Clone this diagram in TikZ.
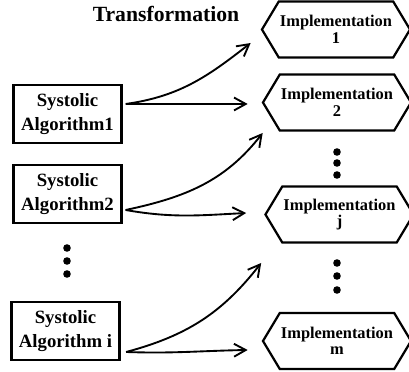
\documentclass[tikz,border=0pt]{standalone}
\usepackage{fontspec}
\setmainfont{Liberation Serif}
\usepackage{tikz}
\usetikzlibrary{shapes.symbols, arrows.meta}

\begin{document}
\begin{tikzpicture}[x=0.03cm, y=0.03cm,
    algbox/.style={draw, line width=1.9pt, minimum width=3.24cm, minimum height=1.72cm,
      inner sep=1pt, align=center, font=\fontsize{16}{20}\selectfont\bfseries},
    implhex/.style={draw, line width=1.9pt, signal, signal to=west and east,
      signal pointer angle=118, minimum width=4.2cm, minimum height=1.68cm,
      inner sep=1pt, align=center, font=\fontsize{14}{14}\selectfont\bfseries},
    flow/.style={-{Straight Barb[length=10pt, width=11pt]}, line width=1.6pt}]
        \useasboundingbox (0,0) rectangle (409,372);

        \node[font=\fontsize{18.5}{20}\selectfont\bfseries] (title) at (166,358) {Transformation};

        \node[algbox] (alg1) at (67.5,258) {Systolic\\Algorithm1};
        \node[algbox] (alg2) at (67.5,178) {Systolic\\Algorithm2};
        \node[algbox] (algi) at (65.5,41) {Systolic\\Algorithm i};

        \node[implhex] (impl1) at (336,342.5) {Implementation\\1};
        \node[implhex] (impl2) at (337,269.5) {Implementation\\2};
        \node[implhex] (implj) at (339.5,157.5) {Implementation\\j};
        \node[implhex] (implm) at (337,31) {Implementation\\m};

        % dots
        \foreach \y in {98,111,124} \fill (67,\y) circle (3.8);
        \foreach \y in {197,209,220} \fill (337,\y) circle (3.8);
        \foreach \y in {82,96,109} \fill (337,\y) circle (3.8);

        \draw[flow] ([shift={(3,10)}]alg1.east) to[out=8, in=218] ([shift={(-10,-13.5)}]impl1.west);
        \draw[flow] ([shift={(3,10)}]alg1.east) -- ([shift={(-14,-1.5)}]impl2.west);
        \draw[flow] ([shift={(3,-16)}]alg2.east) to[out=12, in=232] ([shift={(1,-30.5)}]impl2.west);
        \draw[flow] ([shift={(3,-16)}]alg2.east) to[out=-10, in=183] ([shift={(-18,1.5)}]implj.west);
        \draw[flow] ([shift={(5.5,-21)}]algi.east) to[out=15, in=232] ([shift={(-3,-48.5)}]implj.west);
        \draw[flow] ([shift={(5.5,-21)}]algi.east) to[out=-2, in=181] ([shift={(-14,-9)}]implm.west);
      \end{tikzpicture}
\end{document}
